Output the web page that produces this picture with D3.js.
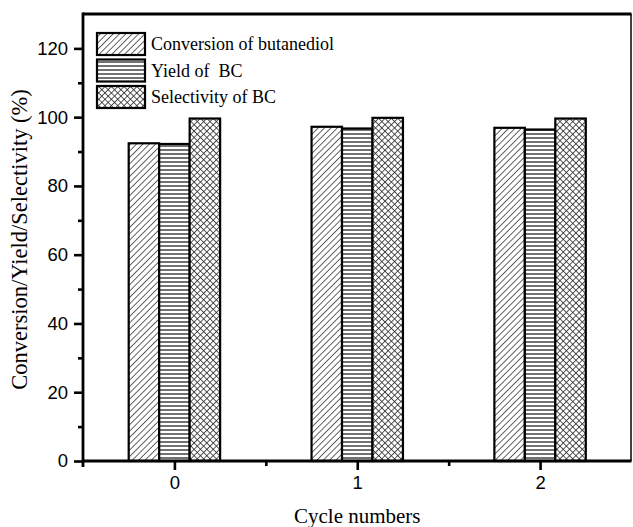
<!DOCTYPE html>
<html><head><meta charset="utf-8">
<script src="https://cdn.jsdelivr.net/npm/d3@7"></script>
<style>body{margin:0;background:#fff}svg{display:block}text{white-space:pre}</style>
</head><body>
<script>
const categories = [0, 1, 2];
const seriesNames = ["Conversion of butanediol", "Yield of  BC", "Selectivity of BC"];
const conversion = [92.4, 97.2, 96.9];
const yieldBC = [92.2, 96.7, 96.4];
const selectivity = [99.6, 99.8, 99.6];
const yTicks = [0, 20, 40, 60, 80, 100, 120];
const yMinorTicks = [10, 30, 50, 70, 90, 110];
const xMinorTicks = [0.5, 1.5];

const W = 633, H = 527;
const m = {left: 83, right: 1.5, top: 14, bottom: 66};
const svg = d3.select("body").append("svg").attr("width", W).attr("height", H);

const defs = svg.append("defs");
const p1 = defs.append("pattern").attr("id","pDiag").attr("patternUnits","userSpaceOnUse")
  .attr("width",4.5).attr("height",4.5).attr("patternTransform","rotate(45)");
p1.append("rect").attr("width",4.5).attr("height",4.5).attr("fill","#fff");
p1.append("line").attr("x1",0).attr("y1",0).attr("x2",0).attr("y2",4.5).attr("stroke","#222").attr("stroke-width",1.4);
const p2 = defs.append("pattern").attr("id","pHor").attr("patternUnits","userSpaceOnUse")
  .attr("width",4).attr("height",4);
p2.append("rect").attr("width",4).attr("height",4).attr("fill","#fff");
p2.append("line").attr("x1",0).attr("y1",2).attr("x2",4).attr("y2",2).attr("stroke","#333").attr("stroke-width",1.4);
const p3 = defs.append("pattern").attr("id","pCross").attr("patternUnits","userSpaceOnUse")
  .attr("width",4.5).attr("height",4.5).attr("patternTransform","rotate(45)");
p3.append("rect").attr("width",4.5).attr("height",4.5).attr("fill","#fff");
p3.append("line").attr("x1",0).attr("y1",0).attr("x2",0).attr("y2",4.5).attr("stroke","#222").attr("stroke-width",1.5);
p3.append("line").attr("x1",0).attr("y1",0).attr("x2",4.5).attr("y2",0).attr("stroke","#222").attr("stroke-width",1.5);

const fills = ["url(#pDiag)", "url(#pHor)", "url(#pCross)"];
const seriesData = [conversion, yieldBC, selectivity];

const x = d3.scaleLinear().domain([-0.5, 2.5]).range([m.left, W - m.right]);
const y = d3.scaleLinear().domain([0, 130]).range([H - m.bottom, m.top]);
const inner = d3.scaleBand().domain([0,1,2]).range([-0.25, 0.25]);

seriesData.forEach((vals, si) => {
  svg.append("g").selectAll("rect").data(categories).join("rect")
    .attr("x", d => x(d + inner(si)))
    .attr("width", x(inner.bandwidth()) - x(0))
    .attr("y", (d,i) => y(vals[i]))
    .attr("height", (d,i) => y(0) - y(vals[i]))
    .attr("fill", fills[si]).attr("stroke", "#000").attr("stroke-width", 2.2);
});

svg.append("line").attr("x1", x(-0.5)).attr("x2", x(2.5)).attr("y1", y(130)).attr("y2", y(130))
  .attr("stroke","#000").attr("stroke-width",2.8);
svg.append("line").attr("x1", x(2.5)-0.5).attr("x2", x(2.5)-0.5).attr("y1", y(130)).attr("y2", y(0))
  .attr("stroke","#000").attr("stroke-width",1.5);

const tickFont = "'Liberation Sans', Arial, sans-serif";
svg.append("g").attr("transform", `translate(${m.left},0)`)
  .call(d3.axisLeft(y).tickValues(yTicks).tickSize(9).tickPadding(6));
svg.append("g").attr("transform", `translate(${m.left},0)`)
  .call(d3.axisLeft(y).tickValues(yMinorTicks).tickSize(5).tickFormat(""));
svg.append("g").attr("transform", `translate(0,${y(0)})`)
  .call(d3.axisBottom(x).tickValues(categories).tickSize(9).tickPadding(6).tickFormat(d3.format("d")));
svg.append("g").attr("transform", `translate(0,${y(0)})`)
  .call(d3.axisBottom(x).tickValues(xMinorTicks).tickSize(5).tickFormat(""));

svg.selectAll(".domain").remove();
svg.selectAll(".tick line").attr("stroke","#000").attr("stroke-width",2.6);
svg.selectAll(".tick text").attr("font-family", tickFont).attr("font-size", 18.5).attr("fill","#000");

svg.append("line").attr("x1", m.left).attr("x2", m.left).attr("y1", y(130)-1.4).attr("y2", y(0)+6)
  .attr("stroke","#000").attr("stroke-width",2.8);
svg.append("line").attr("x1", m.left).attr("x2", x(2.5)).attr("y1", y(0)).attr("y2", y(0))
  .attr("stroke","#000").attr("stroke-width",2.8);

const serif = "'Liberation Serif', 'Times New Roman', serif";
svg.append("text").attr("x", x(1)).attr("y", 523).attr("text-anchor","middle")
  .attr("font-family", serif).attr("font-size",21).text("Cycle numbers");
svg.append("text").attr("transform", `translate(27,${(y(0)+y(130))/2 + 2}) rotate(-90)`).attr("text-anchor","middle")
  .attr("font-family", serif).attr("font-size",22.5)
  .text("Conversion/Yield/Selectivity (%)");

const leg = svg.append("g");
seriesNames.forEach((name, i) => {
  const yy = 33 + i * 26.5;
  leg.append("rect").attr("x", 97).attr("y", yy).attr("width", 48).attr("height", 22)
    .attr("fill", fills[i]).attr("stroke","#000").attr("stroke-width",2.2);
  leg.append("text").attr("x", 151).attr("y", yy + 17)
    .attr("font-family", serif).attr("font-size",18).text(name);
});
</script>
</body></html>
